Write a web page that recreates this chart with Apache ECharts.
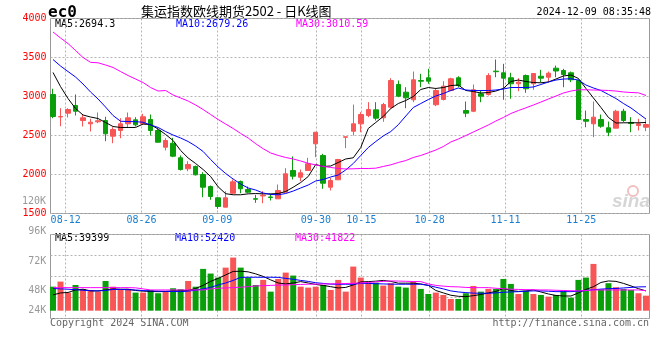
<!DOCTYPE html>
<html><head><meta charset="utf-8">
<script src="https://cdn.jsdelivr.net/npm/echarts@6/dist/echarts.min.js"></script>
<style>html,body{margin:0;padding:0;background:#fff}#c{width:660px;height:360px}</style>
</head><body><div id="c"></div>
<script>
const dates = ['08-08','08-09','08-12','08-13','08-14','08-15','08-16','08-19','08-20','08-21','08-22','08-23','08-26','08-27','08-28','08-29','08-30','09-02','09-03','09-04','09-05','09-06','09-09','09-10','09-11','09-12','09-13','09-18','09-19','09-20','09-23','09-24','09-25','09-26','09-27','09-30','10-08','10-09','10-10','10-11','10-14','10-15','10-16','10-17','10-18','10-21','10-22','10-23','10-24','10-25','10-28','10-29','10-30','10-31','11-01','11-04','11-05','11-06','11-07','11-08','11-11','11-12','11-13','11-14','11-15','11-18','11-19','11-20','11-21','11-22','11-25','11-26','11-27','11-28','11-29','12-02','12-03','12-04','12-05','12-06'];
const tickDates = ['08-12','08-26','09-09','09-30','10-15','10-28','11-11','11-25'];

const kOpen  = [3026,2738,2786,2885,2692,2650,2676,2692,2491,2564, 2650,2701,2650,2705,2564,2350,2401,2214,2073,2103, 2000,1846,1701,1581,1760,1910,1808,1690,1725,1712, 1688,1773,2051,1965,2051,2394,2244,1837,1932,2478, 2555,2650,2756,2829,2727,2863,3154,3055,2958,3205, 3240,2894,2962,3077,3240,2820,2811,3034,3025,3325, 3304,3240,3163,3269,3163,3260,3247,3363,3333,3304, 3205,2705,2650,2705,2599,2594,2811,2667,2628,2606];
const kClose = [2743,2742,2833,2811,2727,2670,2689,2522,2577,2650, 2727,2637,2740,2564,2414,2436,2235,2064,2128,1996, 1837,1718,1590,1701,1906,1817,1773,1683,1735,1705, 1795,2009,1978,2022,2137,2542,1888,1923,2192,2483, 2650,2769,2833,2722,2897,3205,3004,2983,3214,3196, 3196,3077,3132,3227,3141,2786,3086,3004,3269,3318, 3235,3163,3184,3099,3295,3235,3299,3327,3282,3214, 2705,2683,2735,2619,2542,2811,2692,2654,2650,2641];
const kLow   = [2722,2619,2731,2756,2615,2551,2658,2427,2401,2465, 2606,2615,2637,2500,2410,2308,2222,2051,2042,1987, 1709,1676,1560,1581,1752,1760,1760,1637,1632,1667, 1688,1773,1936,1914,2051,2222,1817,1795,1932,2337, 2500,2542,2735,2692,2676,2842,2991,2850,2927,3119, 3163,2876,2949,3068,3119,2735,2799,2927,3013,3247, 2958,2971,3068,3047,3086,3184,3184,3247,3119,3184, 2705,2606,2478,2599,2491,2594,2670,2542,2564,2555];
const kHigh  = [3099,2850,2850,3026,2769,2714,2795,2740,2606,2722, 2795,2735,2778,2769,2586,2465,2470,2244,2170,2115, 2029,1859,1709,1786,1936,1923,1846,1740,1786,1752, 1872,2081,2231,2064,2214,2542,2265,1958,2200,2483, 2897,2799,2927,2927,2919,3235,3205,3119,3320,3291, 3355,3106,3196,3240,3260,2936,3154,3077,3299,3474, 3419,3304,3235,3282,3295,3342,3320,3397,3355,3320, 3218,2820,2936,2769,2679,2829,2842,2735,2714,2705];

const ma5  = [3308,3128,2974,2846,2763,2737,2718,2667,2615,2603, 2603,2603,2647,2640,2583,2513,2436,2308,2212,2141, 2064,1974,1842,1754,1740,1740,1752,1756,1752,1752, 1756,1782,1837,1897,1974,2128,2103,2109,2154,2199, 2214,2346,2590,2667,2744,2846,2910,2949,3000,3090, 3115,3103,3115,3141,3147,3077,3064,3045,3051,3070, 3103,3192,3211,3192,3179,3176,3186,3224,3263,3276, 3231,3103,2981,2859,2731,2660,2663,2663,2663,2667];
const ma10 = [3474,3391,3320,3250,3160,3058,2968,2865,2756,2683, 2679,2677,2670,2635,2603,2551,2506,2468,2423,2365, 2295,2192,2096,2013,1942,1878,1827,1801,1763,1744, 1740,1756,1788,1827,1865,1917,1936,1968,1994,2058, 2141,2244,2346,2423,2494,2551,2638,2750,2859,2910, 2961,3006,3038,3077,3109,3083,3077,3077,3077,3083, 3096,3115,3115,3115,3122,3154,3186,3211,3224,3227, 3211,3147,3109,3077,3026,2974,2910,2853,2782,2711];
const ma30 = [3827,3750,3679,3590,3500,3438,3432,3404,3372,3320, 3269,3224,3179,3115,3070,3077,3019,2981,2942,2891, 2833,2769,2705,2647,2590,2526,2468,2395,2330,2276, 2244,2218,2199,2173,2144,2122,2103,2090,2077,2071, 2073,2077,2077,2081,2103,2124,2154,2179,2218,2244, 2278,2314,2359,2417,2455,2500,2545,2590,2635,2686, 2731,2782,2820,2855,2891,2929,2968,3006,3045,3070, 3086,3086,3083,3081,3077,3070,3058,3051,3047,3013];

const volume = [46.7,51.5,41.1,48.3,44.3,43.6,42.0,52.1,46.7,44.3, 44.6,41.1,41.1,43.6,40.5,42.7,45.2,44.3,52.1,46.7, 63.5,59.1,55.3,64.7,74.2,64.7,55.3,48.3,53.1,42.0, 54.0,60.0,57.2,46.7,45.8,46.7,48.3,43.6,53.1,42.0, 65.7,55.3,50.5,50.5,47.7,50.0,46.7,45.8,51.5,44.6, 39.8,41.1,38.9,35.1,35.1,40.5,47.4,42.0,44.6,44.6, 54.0,49.3,39.8,42.7,39.8,38.9,37.3,38.9,42.9,36.3, 53.1,55.3,68.2,44.3,50.0,46.2,44.6,43.6,40.5,38.2];
const volMa5 = [38.9,40.8,41.2,43.6,44.3,42.7,42.7,43.6,44.6,44.3, 44.3,43.1,42.5,42.2,42.0,42.2,42.7,42.9,43.1,45.0, 47.9,51.7,54.5,57.8,61.1,61.3,60.7,58.8,56.4,53.1, 50.2,49.3,50.2,51.5,50.2,48.8,47.9,46.7,45.5,46.0, 48.3,51.2,51.5,51.9,52.6,51.7,50.0,50.0,50.0,49.3, 47.9,43.1,40.8,38.6,37.6,37.3,38.2,39.3,40.8,42.2, 45.0,43.1,42.2,42.7,43.6,41.7,39.8,38.4,37.9,37.9, 40.8,44.1,46.7,50.7,52.1,51.7,49.8,47.4,44.8,42.7];
const volMa10 = [45.0,44.6,44.3,43.8,43.3,42.9,42.7,43.1,44.1,44.1, 43.8,43.6,43.0,42.7,42.5,42.3,42.2,42.0,42.5,43.3, 44.6,46.0,48.3,50.2,52.6,55.5,55.6,55.6,55.6,55.6, 55.5,54.5,53.7,52.6,51.7,50.4,49.8,49.1,49.0,49.0, 49.0,49.8,49.8,49.5,49.3,49.1,49.0,49.0,49.0,49.0, 47.9,46.2,44.6,42.7,41.7,41.1,40.6,40.5,40.5,40.8, 41.4,41.7,42.0,42.4,42.7,42.7,42.4,42.0,42.0,42.0, 42.4,43.1,43.8,44.4,44.8,45.0,45.5,46.0,46.5,46.6];
const volMa30 = [45.8,45.8,45.8,45.8,45.8,45.8,45.8,45.8,45.8,45.8, 45.8,45.6,44.6,43.6,43.6,43.6,43.6,43.6,43.6,43.6, 43.6,44.6,45.2,45.5,45.8,46.2,46.7,47.4,47.6,47.9, 48.2,48.3,48.6,48.8,49.0,49.1,49.3,49.3,49.5,49.7, 49.9,50.2,50.7,51.2,51.7,52.1,52.0,51.8,51.6,51.5, 49.3,47.9,47.2,46.7,46.5,46.0,45.8,45.8,45.8,45.2, 44.8,44.3,44.1,43.9,43.8,43.6,43.6,43.3,43.1,42.9, 42.7,43.1,43.6,43.6,43.6,43.6,43.6,43.6,43.6,42.9];

const priceAxis = {min: 1500, max: 4000, step: 500};
const volAxis = {min: 24, max: 96, step: 24};

const UP = '#f85656', DOWN = '#0a9f0a';
const MONO = "'DejaVu Sans Mono', monospace";
const chart = echarts.init(document.getElementById('c'), null, {renderer: 'canvas'});

const candle = dates.map((d, i) => [kOpen[i], kClose[i], kLow[i], kHigh[i]]);
const volData = volume.map((v, i) => ({value: v, itemStyle: {color: kClose[i] >= kOpen[i] ? UP : DOWN}}));
const showTick = (i, v) => tickDates.indexOf(v) >= 0;
const dotted = {show: true, lineStyle: {color: '#b4b4b4', type: [2, 2], width: 1}};
const lineS = (data, color, xi, yi) => ({type: 'line', data, xAxisIndex: xi, yAxisIndex: yi, symbol: 'none', smooth: false, z: 4,
  lineStyle: {color, width: 1}, silent: true});
const txt = (text, x, y, fill, font, align) => ({type: 'text', x, y, silent: true,
  style: {text, fill, font: font || ('10px ' + MONO), textAlign: align || 'left', textVerticalAlign: 'middle'}});

const option = {
  animation: false,
  backgroundColor: '#fff',
  grid: [
    {left: 50.5, right: 10.5, top: 18.5, bottom: 146.5, show: true, borderColor: '#999', borderWidth: 1, backgroundColor: 'transparent'},
    {left: 50.5, right: 10.5, top: 234.5, bottom: 41.5, show: true, borderColor: '#999', borderWidth: 1, backgroundColor: 'transparent'},
    {left: 49.25, right: 10.25, top: 18.5, bottom: 146.5},
    {left: 49.25, right: 10.25, top: 234.5, bottom: 49.3}
  ],
  xAxis: [
    {gridIndex: 0, type: 'category', data: dates, boundaryGap: false, axisLine: {show: false}, axisTick: {show: false},
     axisLabel: {interval: showTick, color: '#1a7fd0', fontFamily: MONO, fontSize: 10, margin: 2},
     splitLine: Object.assign({}, dotted, {interval: showTick})},
    {gridIndex: 1, type: 'category', data: dates, boundaryGap: false, axisLine: {show: false}, axisTick: {show: false},
     axisLabel: {show: false}, splitLine: Object.assign({}, dotted, {interval: showTick})},
    {gridIndex: 2, type: 'category', data: dates, boundaryGap: true, show: false},
    {gridIndex: 3, type: 'category', data: dates, boundaryGap: true, show: false}
  ],
  yAxis: [
    {gridIndex: 0, type: 'value', min: priceAxis.min, max: priceAxis.max, interval: priceAxis.step,
     axisLine: {show: false}, axisTick: {show: false}, splitLine: dotted,
     axisLabel: {color: '#f00', fontFamily: MONO, fontSize: 10, margin: 4, padding: [0, 0, 4, 0], formatter: v => String(v)}},
    {gridIndex: 1, type: 'value', min: 0, max: 4, interval: 1, axisLine: {show: false}, axisTick: {show: false},
     axisLabel: {show: false}, splitLine: dotted},
    {gridIndex: 2, type: 'value', min: priceAxis.min, max: priceAxis.max, show: false},
    {gridIndex: 3, type: 'value', min: volAxis.min, max: volAxis.max, interval: volAxis.step,
     axisLine: {show: false}, axisTick: {show: false}, splitLine: {show: false},
     axisLabel: {margin: 3, formatter: v => '{k' + v + '|' + v + 'K}',
       rich: {
         k96: {color: '#999', fontFamily: MONO, fontSize: 10, padding: [0, 0, 7, 0]},
         k72: {color: '#999', fontFamily: MONO, fontSize: 10, padding: [3, 0, 0, 0]},
         k48: {color: '#999', fontFamily: MONO, fontSize: 10, padding: [10, 0, 0, 0]},
         k24: {color: '#999', fontFamily: MONO, fontSize: 10}
       }}}
  ],
  series: [
    {type: 'candlestick', data: candle, xAxisIndex: 2, yAxisIndex: 2, barWidth: 5, clip: false, z: 3, silent: true,
     itemStyle: {color: UP, color0: DOWN, borderColor: UP, borderColor0: DOWN, borderWidth: 1}},
    lineS(ma5, '#000000', 2, 2),
    lineS(ma10, '#0000ff', 2, 2),
    lineS(ma30, '#ff00ff', 2, 2),
    {type: 'bar', data: volData, xAxisIndex: 3, yAxisIndex: 3, barWidth: 6, clip: true, z: 3, silent: true},
    lineS(volMa5, '#000000', 3, 3),
    lineS(volMa10, '#0000ff', 3, 3),
    lineS(volMa30, '#ff00ff', 3, 3)
  ],
  graphic: [
    txt('ec0', 48, 13, '#000', 'bold 16px ' + MONO),
    txt('集运指数欧线期货2502 - 日K线图', 141, 11, '#000', '13px "Noto Sans CJK SC"'),
    txt('2024-12-09 08:35:48', 651, 12, '#000', null, 'right'),
    txt('MA5:2694.3', 55, 24, '#000'),
    txt('MA10:2679.26', 176, 24, '#0000ff'),
    txt('MA30:3010.59', 296, 24, '#ff00ff'),
    txt('120K', 46, 201, '#999', null, 'right'),
    txt('MA5:39399', 55, 238.5, '#000'),
    txt('MA10:52420', 175, 238.5, '#0000ff'),
    txt('MA30:41822', 295, 238.5, '#ff00ff'),
    txt('Copyright 2024 SINA.COM', 50, 323.5, '#666'),
    txt('http://finance.sina.com.cn', 649, 323.5, '#666', null, 'right'),
    {type: 'circle', shape: {cx: 633, cy: 191, r: 5}, silent: true, style: {fill: 'none', stroke: '#f2c0c0', lineWidth: 2}},
    txt('sina', 650, 202, '#d6d6d6', 'italic bold 19px "Liberation Sans"', 'right')
  ]
};
chart.setOption(option);
</script></body></html>
